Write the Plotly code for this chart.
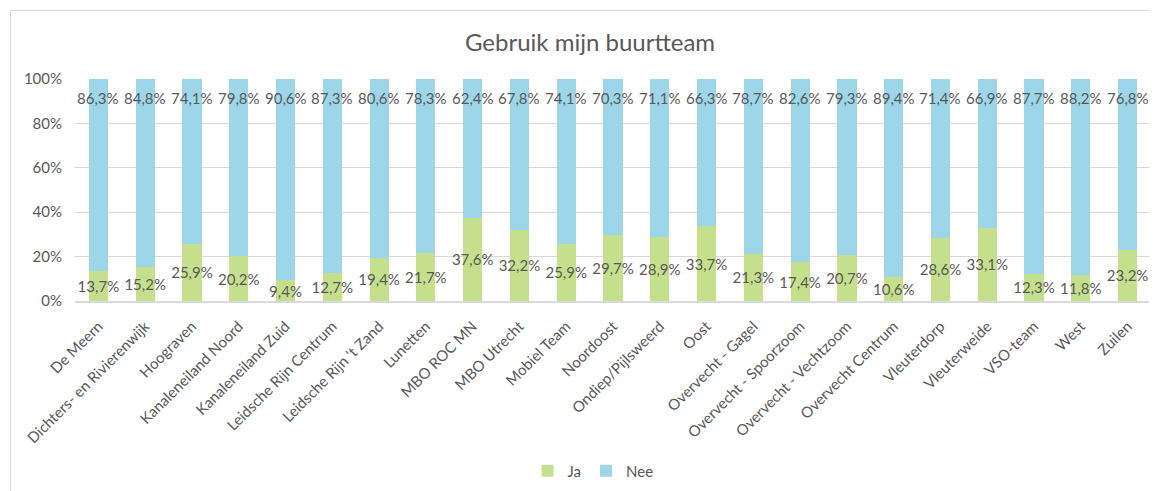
import plotly.graph_objects as go

categories = ["De Meern", "Dichters- en Rivierenwijk", "Hoograven", "Kanaleneiland Noord",
              "Kanaleneiland Zuid", "Leidsche Rijn Centrum", "Leidsche Rijn 't Zand", "Lunetten",
              "MBO ROC MN", "MBO Utrecht", "Mobiel Team", "Noordoost", "Ondiep/Pijlsweerd", "Oost",
              "Overvecht - Gagel", "Overvecht - Spoorzoom", "Overvecht - Vechtzoom",
              "Overvecht Centrum", "Vleuterdorp", "Vleuterweide", "VSO-team", "West", "Zuilen"]
ja = [13.7, 15.2, 25.9, 20.2, 9.4, 12.7, 19.4, 21.7, 37.6, 32.2, 25.9, 29.7, 28.9, 33.7,
      21.3, 17.4, 20.7, 10.6, 28.6, 33.1, 12.3, 11.8, 23.2]
nee = [86.3, 84.8, 74.1, 79.8, 90.6, 87.3, 80.6, 78.3, 62.4, 67.8, 74.1, 70.3, 71.1, 66.3,
       78.7, 82.6, 79.3, 89.4, 71.4, 66.9, 87.7, 88.2, 76.8]
y_ticks = [0, 20, 40, 60, 80, 100]
y_tick_labels = ["0%", "20%", "40%", "60%", "80%", "100%"]

FONT = "Lato, 'Open Sans', sans-serif"
TXT = "#595959"
GREEN = "#C4E08D"
BLUE = "#9DD6E9"

def fmt(v):
    return f"{v:.1f}%".replace(".", ",")

label_font = dict(family=FONT, size=15, color=TXT)

fig = go.Figure()
fig.add_trace(go.Bar(
    x=categories, y=ja, name="Ja", marker=dict(color=GREEN, line=dict(width=0)),
    text=[fmt(v) for v in ja], textposition="inside", insidetextanchor="middle",
    constraintext="none", textangle=0,
    textfont=label_font, insidetextfont=label_font, outsidetextfont=label_font,
))
fig.add_trace(go.Bar(
    x=categories, y=nee, name="Nee", marker=dict(color=BLUE, line=dict(width=0)),
))

# Page body has an 8px margin; the figure is sized/offset so screen positions match.
OFF = 8
W, H = 1157 - OFF, 491 - OFF
PL, PR, PT, PB = 75, 1151, 79, 301  # plot area in screen pixels
L, T = PL - OFF, PT - OFF
R, B = W - (PR - OFF), H - (PB - OFF)
pw, ph = PR - PL, PB - PT

def px_x(sx):
    return (sx - PL) / pw

def px_y(sy):
    return (PB - sy) / ph

annotations = []
for c, a, n in zip(categories, ja, nee):
    annotations.append(dict(x=c, y=a + n, xref="x", yref="y", text=fmt(n), showarrow=False,
                            yshift=-19, yanchor="middle", xanchor="center",
                            font=label_font))

fig.update_layout(
    width=W, height=H, barmode="stack", bargap=0.59,
    paper_bgcolor="white", plot_bgcolor="white",
    margin=dict(l=L, r=R, t=T, b=B, autoexpand=False),
    font=dict(family=FONT, size=15, color=TXT),
    title=dict(text="Gebruik mijn buurtteam", x=px_x(590), xanchor="center",
               xref="paper", y=1 - (43 - OFF) / H, yanchor="middle",
               font=dict(family=FONT, size=24, color=TXT)),
    legend=dict(orientation="h", x=px_x(593), xanchor="center", y=px_y(471), yanchor="middle",
                font=dict(family=FONT, size=15, color=TXT), itemwidth=30,
                traceorder="normal", bgcolor="rgba(0,0,0,0)"),
    xaxis=dict(tickangle=-45, tickfont=dict(family=FONT, size=15, color=TXT),
               showgrid=False, showline=True, linecolor="#D9D9D9", linewidth=1.5,
               ticks="", ticklabelstandoff=9, fixedrange=True),
    yaxis=dict(range=[0, 100], tickmode="array", tickvals=y_ticks, ticktext=y_tick_labels,
               tickfont=dict(family=FONT, size=15, color=TXT),
               showgrid=True, gridcolor="#D9D9D9", gridwidth=1, zeroline=False,
               showline=False, ticks="", ticklabelstandoff=12),
    annotations=annotations,
    shapes=[dict(type="rect", xref="paper", yref="paper",
                 x0=px_x(10.5), x1=1.05, y0=-1.2, y1=px_y(10.5),
                 line=dict(color="#D9D9D9", width=1), fillcolor="rgba(0,0,0,0)", layer="below")],
)
fig.update_traces(cliponaxis=False)

fig.write_html("out.html")
